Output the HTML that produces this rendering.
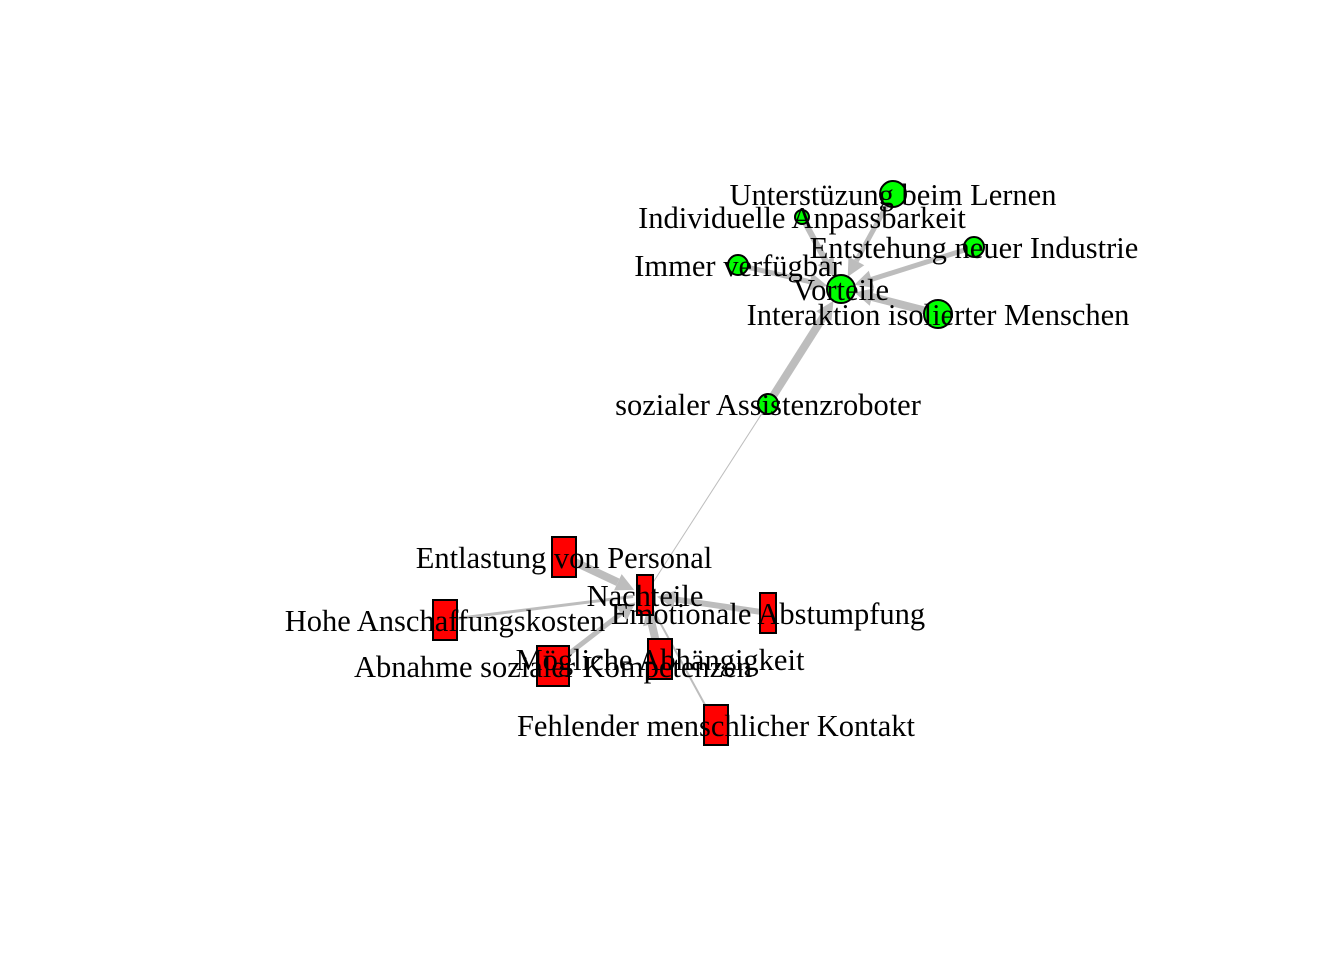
<!DOCTYPE html>
<html><head><meta charset="utf-8"><style>
html,body{margin:0;padding:0;background:#fff;}
svg{display:block;}
text{font-family:"Liberation Serif",serif;font-size:30.5px;fill:#000;}
</style></head>
<body>
<svg id="net" width="1344" height="960" viewBox="0 0 1344 960">
<g id="edges"></g>
<g id="nodes"></g>
<g id="labels"></g>
</svg>
<script>
const nodeNames = ["Vorteile","Unterstüzung beim Lernen","Individuelle Anpassbarkeit","Entstehung neuer Industrie","Immer verfügbar","Interaktion isolierter Menschen","sozialer Assistenzroboter","Nachteile","Entlastung von Personal","Hohe Anschaffungskosten","Emotionale Abstumpfung","Abnahme sozialer Kompetenzen","Mögliche Abhängigkeit","Fehlender menschlicher Kontakt"];
const nodeX = [841,893,802,974,738,938,768,645,564,445,768,553,660,716];
const nodeY = [289,194,217,247,265,314,404,595,557,620,613,666,659,725];
const nodeKind = ["c","c","c","c","c","c","c","r","r","r","r","r","r","r"];
const nodeSize = [14,13,7,10,10,14,10,16,24,24,16,32,24,24];
const edgeFrom = [1,2,3,4,5,6,6,8,9,10,11,12,13];
const edgeTo   = [0,0,0,0,0,0,7,7,7,7,7,7,7];
const edgeWidth= [5,6,5,5,8,8,1,8,3,6,5,8,2];
const edgeArrow= [1,1,1,1,1,1,0,1,0,1,1,1,0];

const NS="http://www.w3.org/2000/svg";
const eg=document.getElementById('edges'), ng=document.getElementById('nodes'), lg=document.getElementById('labels');
function mk(t,a){const e=document.createElementNS(NS,t);for(const k in a)e.setAttribute(k,a[k]);return e;}
for(let i=0;i<edgeFrom.length;i++){
  const a=edgeFrom[i],b=edgeTo[i];
  const x1=nodeX[a],y1=nodeY[a],x2=nodeX[b],y2=nodeY[b];
  const dx=x2-x1,dy=y2-y1,L=Math.hypot(dx,dy),ux=dx/L,uy=dy/L;
  const stop=nodeKind[b]==="c"?nodeSize[b]:12;
  const ex=x2-ux*stop,ey=y2-uy*stop;
  const al=edgeArrow[i]?18:0;
  const l=mk('line',{x1:x1,y1:y1,x2:ex-ux*al,y2:ey-uy*al,stroke:'#bdbdbd','stroke-width':edgeWidth[i]});
  
  
  eg.appendChild(l);
  if(edgeArrow[i]){
    const w=9,bx=ex-ux*al,by=ey-uy*al;
    const p=mk('polygon',{points:`${ex},${ey} ${bx-uy*w},${by+ux*w} ${bx+uy*w},${by-ux*w}`,fill:'#bdbdbd'});
    
    
    eg.appendChild(p);
  }
}
for(let i=0;i<nodeNames.length;i++){
  let e;
  if(nodeKind[i]==="c"){
    e=mk('circle',{cx:nodeX[i],cy:nodeY[i],r:nodeSize[i],fill:'#00ff00',stroke:'#000','stroke-width':2});
  }else{
    const w=nodeSize[i],h=40;
    e=mk('rect',{x:nodeX[i]-w/2,y:nodeY[i]-h/2,width:w,height:h,fill:'#ff0000',stroke:'#000','stroke-width':2});
  }
  
  
  ng.appendChild(e);
  const t=mk('text',{x:nodeX[i],y:nodeY[i]+11,'text-anchor':'middle'});
  t.textContent=nodeNames[i];
  
  
  lg.appendChild(t);
}
</script>
</body></html>
